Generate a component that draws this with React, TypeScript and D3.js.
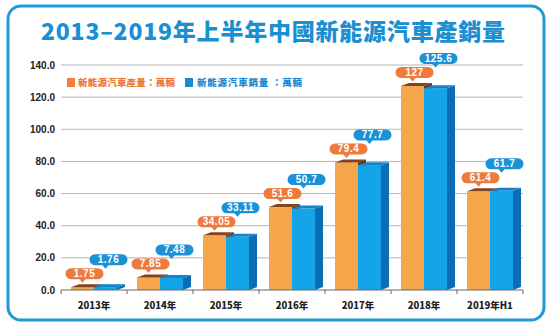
import React from "react";
import * as d3 from "d3";

const categories = ["2013年", "2014年", "2015年", "2016年", "2017年", "2018年", "2019年H1"];
const production = [1.75, 7.85, 34.05, 51.6, 79.4, 127, 61.4];
const sales = [1.76, 7.48, 33.11, 50.7, 77.7, 125.6, 61.7];
const productionLabels = ["1.75", "7.85", "34.05", "51.6", "79.4", "127", "61.4"];
const salesLabels = ["1.76", "7.48", "33.11", "50.7", "77.7", "125.6", "61.7"];
const yTicks = [0, 20, 40, 60, 80, 100, 120, 140];
const title = "2013–2019年上半年中國新能源汽車產銷量";
const legendProduction = "新能源汽車產量：萬輛";
const legendSales = "新能源汽車銷量 ：萬輛";

const W = 552;
const H = 329;
const FONT = "'Liberation Sans', Arial, sans-serif";
const CJK = "'Noto Sans CJK TC', 'Noto Sans CJK SC', sans-serif";

function bubblePath(cx: number, bottom: number, px: number, w: number, h: number) {
  const r = h / 2;
  const l = cx - w / 2;
  const rr = cx + w / 2;
  const t = bottom - h;
  return [
    `M${l + r},${t}`,
    `L${rr - r},${t}`,
    `A${r},${r} 0 0 1 ${rr - r},${bottom}`,
    `L${px + 3},${bottom}`,
    `L${px},${bottom + 3.5}`,
    `L${px - 3},${bottom}`,
    `L${l + r},${bottom}`,
    `A${r},${r} 0 0 1 ${l + r},${t}`,
    "Z",
  ].join(" ");
}

export default function App() {
  const x = d3.scaleBand<string>().domain(categories).range([61, 523]).padding(0);
  const y = d3.scaleLinear().domain([0, 140]).range([290, 65]);
  const base = y(0);
  const bw = 23;
  const dx = 8;
  const dy = 3;

  return (
    <svg width={W} height={H} style={{ display: "block", position: "absolute", left: 0, top: 0 }}>
      <rect x={0} y={0} width={W} height={H} fill="#ffffff" />
      <rect x={8} y={6} width={536} height={314} rx={13} ry={13} fill="none" stroke="#1d9ad6" strokeWidth={3} />
      <text
        x={41}
        y={40}
        fontFamily={CJK}
        fontWeight={900}
        fontSize={23}
        fill="#1b8fd0"
        textLength={464}
        lengthAdjust="spacing"
      >
        {title}
      </text>

      {yTicks.map((t) => (
        <g key={t}>
          {t > 0 && <line x1={61} x2={523} y1={y(t)} y2={y(t)} stroke="#b5b5b5" strokeWidth={1} />}
          <text x={55} y={y(t) + 3.5} textAnchor="end" fontFamily={FONT} fontWeight={700} fontSize={10} fill="#222">
            {t.toFixed(1)}
          </text>
        </g>
      ))}

      {/* legend */}
      <rect x={67} y={78} width={8} height={9} fill="#f0803c" />
      <text x={78} y={86} fontFamily={CJK} fontWeight={900} fontSize={9.5} fill="#ef7a36" textLength={97} lengthAdjust="spacing">
        {legendProduction}
      </text>
      <rect x={185} y={78} width={8} height={9} fill="#1a8ad2" />
      <text x={197} y={86} fontFamily={CJK} fontWeight={900} fontSize={9.5} fill="#1a8ad2" textLength={105} lengthAdjust="spacing">
        {legendSales}
      </text>

      {categories.map((c, i) => {
        const cx = (x(c) as number) + x.bandwidth() / 2;
        const x0 = cx - bw;
        const x1 = cx;
        const x2 = cx + bw;
        const yo = y(production[i]);
        const yb = y(sales[i]);
        const ob = yo - 8;
        const bb = ob - 14;
        return (
          <g key={c}>
            {/* orange bar */}
            <rect x={x0} y={yo} width={bw} height={base - yo} fill="#f5a54a" />
            <polygon points={`${x1},${yo} ${x1 + dx},${yo - dy} ${x1 + dx},${base - dy} ${x1},${base}`} fill="#6e3414" />
            <polygon points={`${x0},${yo} ${x0 + dx},${yo - dy} ${x1 + dx},${yo - dy} ${x1},${yo}`} fill="#84431f" />
            {/* blue bar */}
            <rect x={x1} y={yb} width={bw} height={base - yb} fill="#14a5e8" />
            <polygon points={`${x2},${yb} ${x2 + dx},${yb - dy} ${x2 + dx},${base - dy} ${x2},${base}`} fill="#0a6db5" />
            <polygon points={`${x1},${yb} ${x1 + dx},${yb - dy} ${x2 + dx},${yb - dy} ${x2},${yb}`} fill="#0f86cc" />

            {/* bubbles */}
            <path d={bubblePath(cx - bw / 2 + 2, ob, cx - bw / 2, 38, 11)} fill="#ee7b3d" />
            <text x={cx - bw / 2 + 2} y={ob - 2} textAnchor="middle" fontFamily={FONT} fontWeight={700} fontSize={10} fill="#fff" letterSpacing={0.5}>
              {productionLabels[i]}
            </text>
            <path d={bubblePath(cx + bw / 2 + 3, bb, cx + bw / 2, 38, 11)} fill="#1b92d6" />
            <text x={cx + bw / 2 + 3} y={bb - 2} textAnchor="middle" fontFamily={FONT} fontWeight={700} fontSize={10} fill="#fff" letterSpacing={0.5}>
              {salesLabels[i]}
            </text>

            <text x={cx} y={309} textAnchor="middle" fontFamily={CJK} fontWeight={900} fontSize={9.5} fill="#222">
              {c}
            </text>
          </g>
        );
      })}

      {/* x axis */}
      <line x1={61} x2={523} y1={base} y2={base} stroke="#666" strokeWidth={1} />
      {categories.concat(["end"]).map((c, i) => {
        const xx = 61 + i * x.bandwidth();
        return <line key={c} x1={xx} x2={xx} y1={base} y2={base + 4} stroke="#666" strokeWidth={1} />;
      })}
    </svg>
  );
}
